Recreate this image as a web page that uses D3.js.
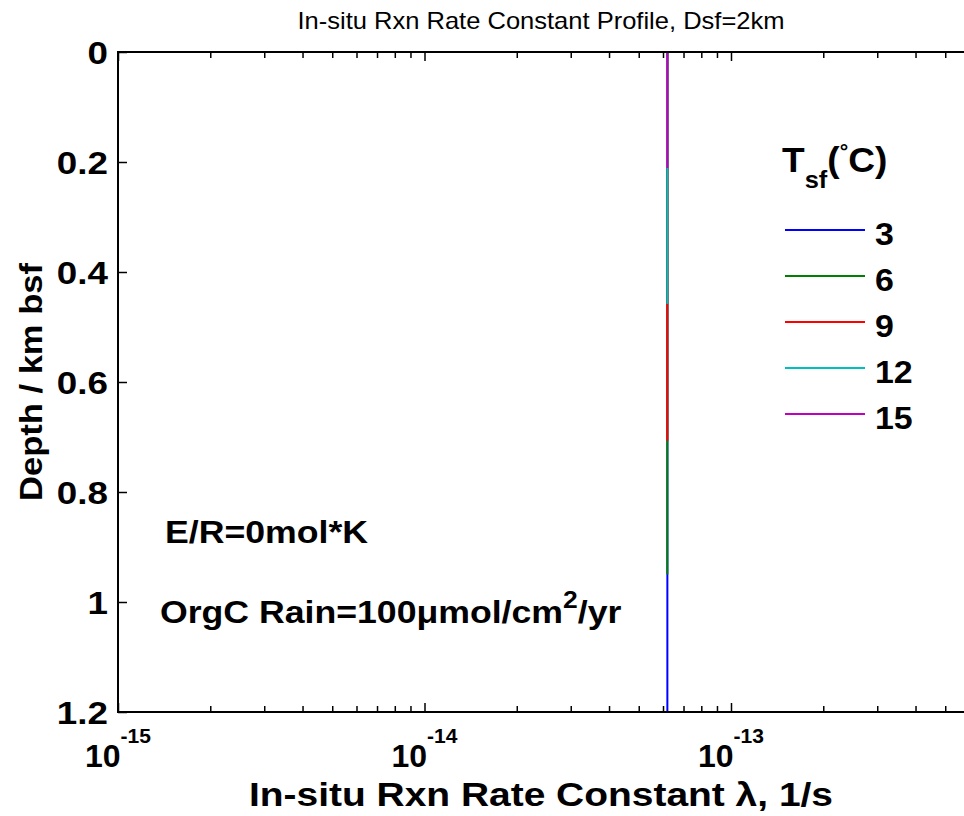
<!DOCTYPE html>
<html>
<head>
<meta charset="utf-8">
<script src="https://cdn.jsdelivr.net/npm/d3@7"></script>
<style>
  html, body { margin: 0; padding: 0; background: #fff; }
  svg { display: block; }
  text { font-family: Arial, "Liberation Sans", Helvetica, sans-serif; fill: #000; }
</style>
</head>
<body>
<svg id="chart" width="964" height="816"></svg>
<script>
// Surface temperatures (°C) of each profile, in drawing order
const surfaceTemps = [3, 6, 9, 12, 15];
const seriesColors = ["#0000ff", "#008000", "#ff0000", "#00bfbf", "#bf00bf"];
// In-situ rate constant of each profile (1/s); with E/R = 0 it does not vary with depth
const rateConstants = [6.2e-14, 6.2e-14, 6.2e-14, 6.2e-14, 6.2e-14];
// Depth (km bsf) where each profile starts and ends
const profileTop = [0, 0, 0, 0, 0];
const profileBottom = [1.2, 0.95, 0.707, 0.458, 0.211];

const depthTicks = [0, 0.2, 0.4, 0.6, 0.8, 1, 1.2];
const depthTickLabels = ["0", "0.2", "0.4", "0.6", "0.8", "1", "1.2"];
const rateMajorTicks = [1e-15, 1e-14, 1e-13, 1e-12];
const rateLabelTicks = [1e-15, 1e-14, 1e-13];
const rateTickExponents = ["-15", "-14", "-13"];

const svg = d3.select("#chart");
const plotLeft = 118, plotTop = 52, plotBottom = 712, decade = 306.5;

const x = d3.scaleLog().domain([1e-15, 1e-12]).range([plotLeft, plotLeft + 3 * decade]);
const y = d3.scaleLinear().domain([0, 1.2]).range([plotTop, plotBottom]);

// Minor ticks of the log axis: 2..9 in each decade
const minorTicks = [];
for (let e = -15; e < -12; e++) for (let m = 2; m <= 9; m++) minorTicks.push(m * Math.pow(10, e));

function tickAxis(g, axisFn, vals, size) {
  g.call(axisFn.tickValues(vals).tickSize(size).tickFormat(""));
  g.select(".domain").remove();
  g.selectAll(".tick line").attr("stroke", "#000").attr("stroke-width", 1.5);
}

// Text placed at (px, py), widened horizontally by sx
function label(parent, px, py, sx, size, bold, anchor, rotate) {
  const g = parent.append("g")
    .attr("transform", `translate(${px},${py})${rotate ? ` rotate(${rotate})` : ""} scale(${sx},1)`);
  return g.append("text")
    .attr("font-size", size)
    .attr("font-weight", bold ? "bold" : "normal")
    .attr("text-anchor", anchor || "start");
}

// inward ticks on bottom and top edges
tickAxis(svg.append("g").attr("transform", `translate(0,${plotBottom})`), d3.axisBottom(x), rateMajorTicks, -9);
tickAxis(svg.append("g").attr("transform", `translate(0,${plotBottom})`), d3.axisBottom(x), minorTicks, -6);
tickAxis(svg.append("g").attr("transform", `translate(0,${plotTop})`), d3.axisTop(x), rateMajorTicks, -9);
tickAxis(svg.append("g").attr("transform", `translate(0,${plotTop})`), d3.axisTop(x), minorTicks, -6);
tickAxis(svg.append("g").attr("transform", `translate(${plotLeft},0)`), d3.axisLeft(y), depthTicks, -9);

// profiles
const line = d3.line().x(d => x(d[0])).y(d => y(d[1]));
surfaceTemps.forEach((t, i) => {
  svg.append("path")
    .attr("d", line([[rateConstants[i], profileTop[i]], [rateConstants[i], profileBottom[i]]]))
    .attr("stroke", seriesColors[i]).attr("stroke-width", 2).attr("fill", "none");
});

// axes frame
svg.append("path")
  .attr("d", `M${x(1e-12)},${plotTop}H${plotLeft}V${plotBottom}H${x(1e-12)}`)
  .attr("stroke", "#000").attr("stroke-width", 2).attr("fill", "none");

// depth tick labels
depthTicks.forEach((d, i) => {
  label(svg, plotLeft - 10, y(d) + 11.5, 1.15, 32, true, "end").text(depthTickLabels[i]);
});

// rate tick labels: 10 with superscript exponent
rateLabelTicks.forEach((d, i) => {
  const t = label(svg, x(d), 767, 1.0, 32, true, "middle");
  t.append("tspan").text("10");
  t.append("tspan").attr("font-size", 21).attr("dy", -24).text(rateTickExponents[i]);
});

// title
label(svg, 541, 29, 1.11, 23, false, "middle").text("In-situ Rxn Rate Constant Profile, Dsf=2km");

// axis labels
label(svg, 541, 806, 1.18, 33, true, "middle").text("In-situ Rxn Rate Constant \u03bb, 1/s");
label(svg, 42, (plotTop + plotBottom) / 2, 1.08, 32, true, "middle", -90).text("Depth / km bsf");

// legend
const lg = svg.append("g");
const lt = label(lg, 782, 172, 1.06, 35, true, "start");
lt.append("tspan").text("T");
lt.append("tspan").attr("font-size", 24).attr("dy", 16).text("sf");
lt.append("tspan").attr("dy", -16).text("(");
lt.append("tspan").attr("font-size", 20).attr("dy", -14).text("\u00b0");
lt.append("tspan").attr("dy", 14).text("C)");

const legendY = d3.scalePoint().domain(surfaceTemps).range([230, 414]);
surfaceTemps.forEach((t, i) => {
  lg.append("line").attr("x1", 785).attr("x2", 865)
    .attr("y1", legendY(t)).attr("y2", legendY(t))
    .attr("stroke", seriesColors[i]).attr("stroke-width", 2);
  label(lg, 875, legendY(t) + 15, 1.06, 32, true, "start").text(t);
});

// annotations
label(svg, 165, 543, 1.15, 31, true, "start").text("E/R=0mol*K");
const rain = label(svg, 160, 623, 1.15, 31, true, "start");
rain.append("tspan").text("OrgC Rain=100\u03bcmol/cm");
rain.append("tspan").attr("dy", -15).attr("font-size", 23).text("2");
rain.append("tspan").attr("dy", 15).text("/yr");
</script>
</body>
</html>
